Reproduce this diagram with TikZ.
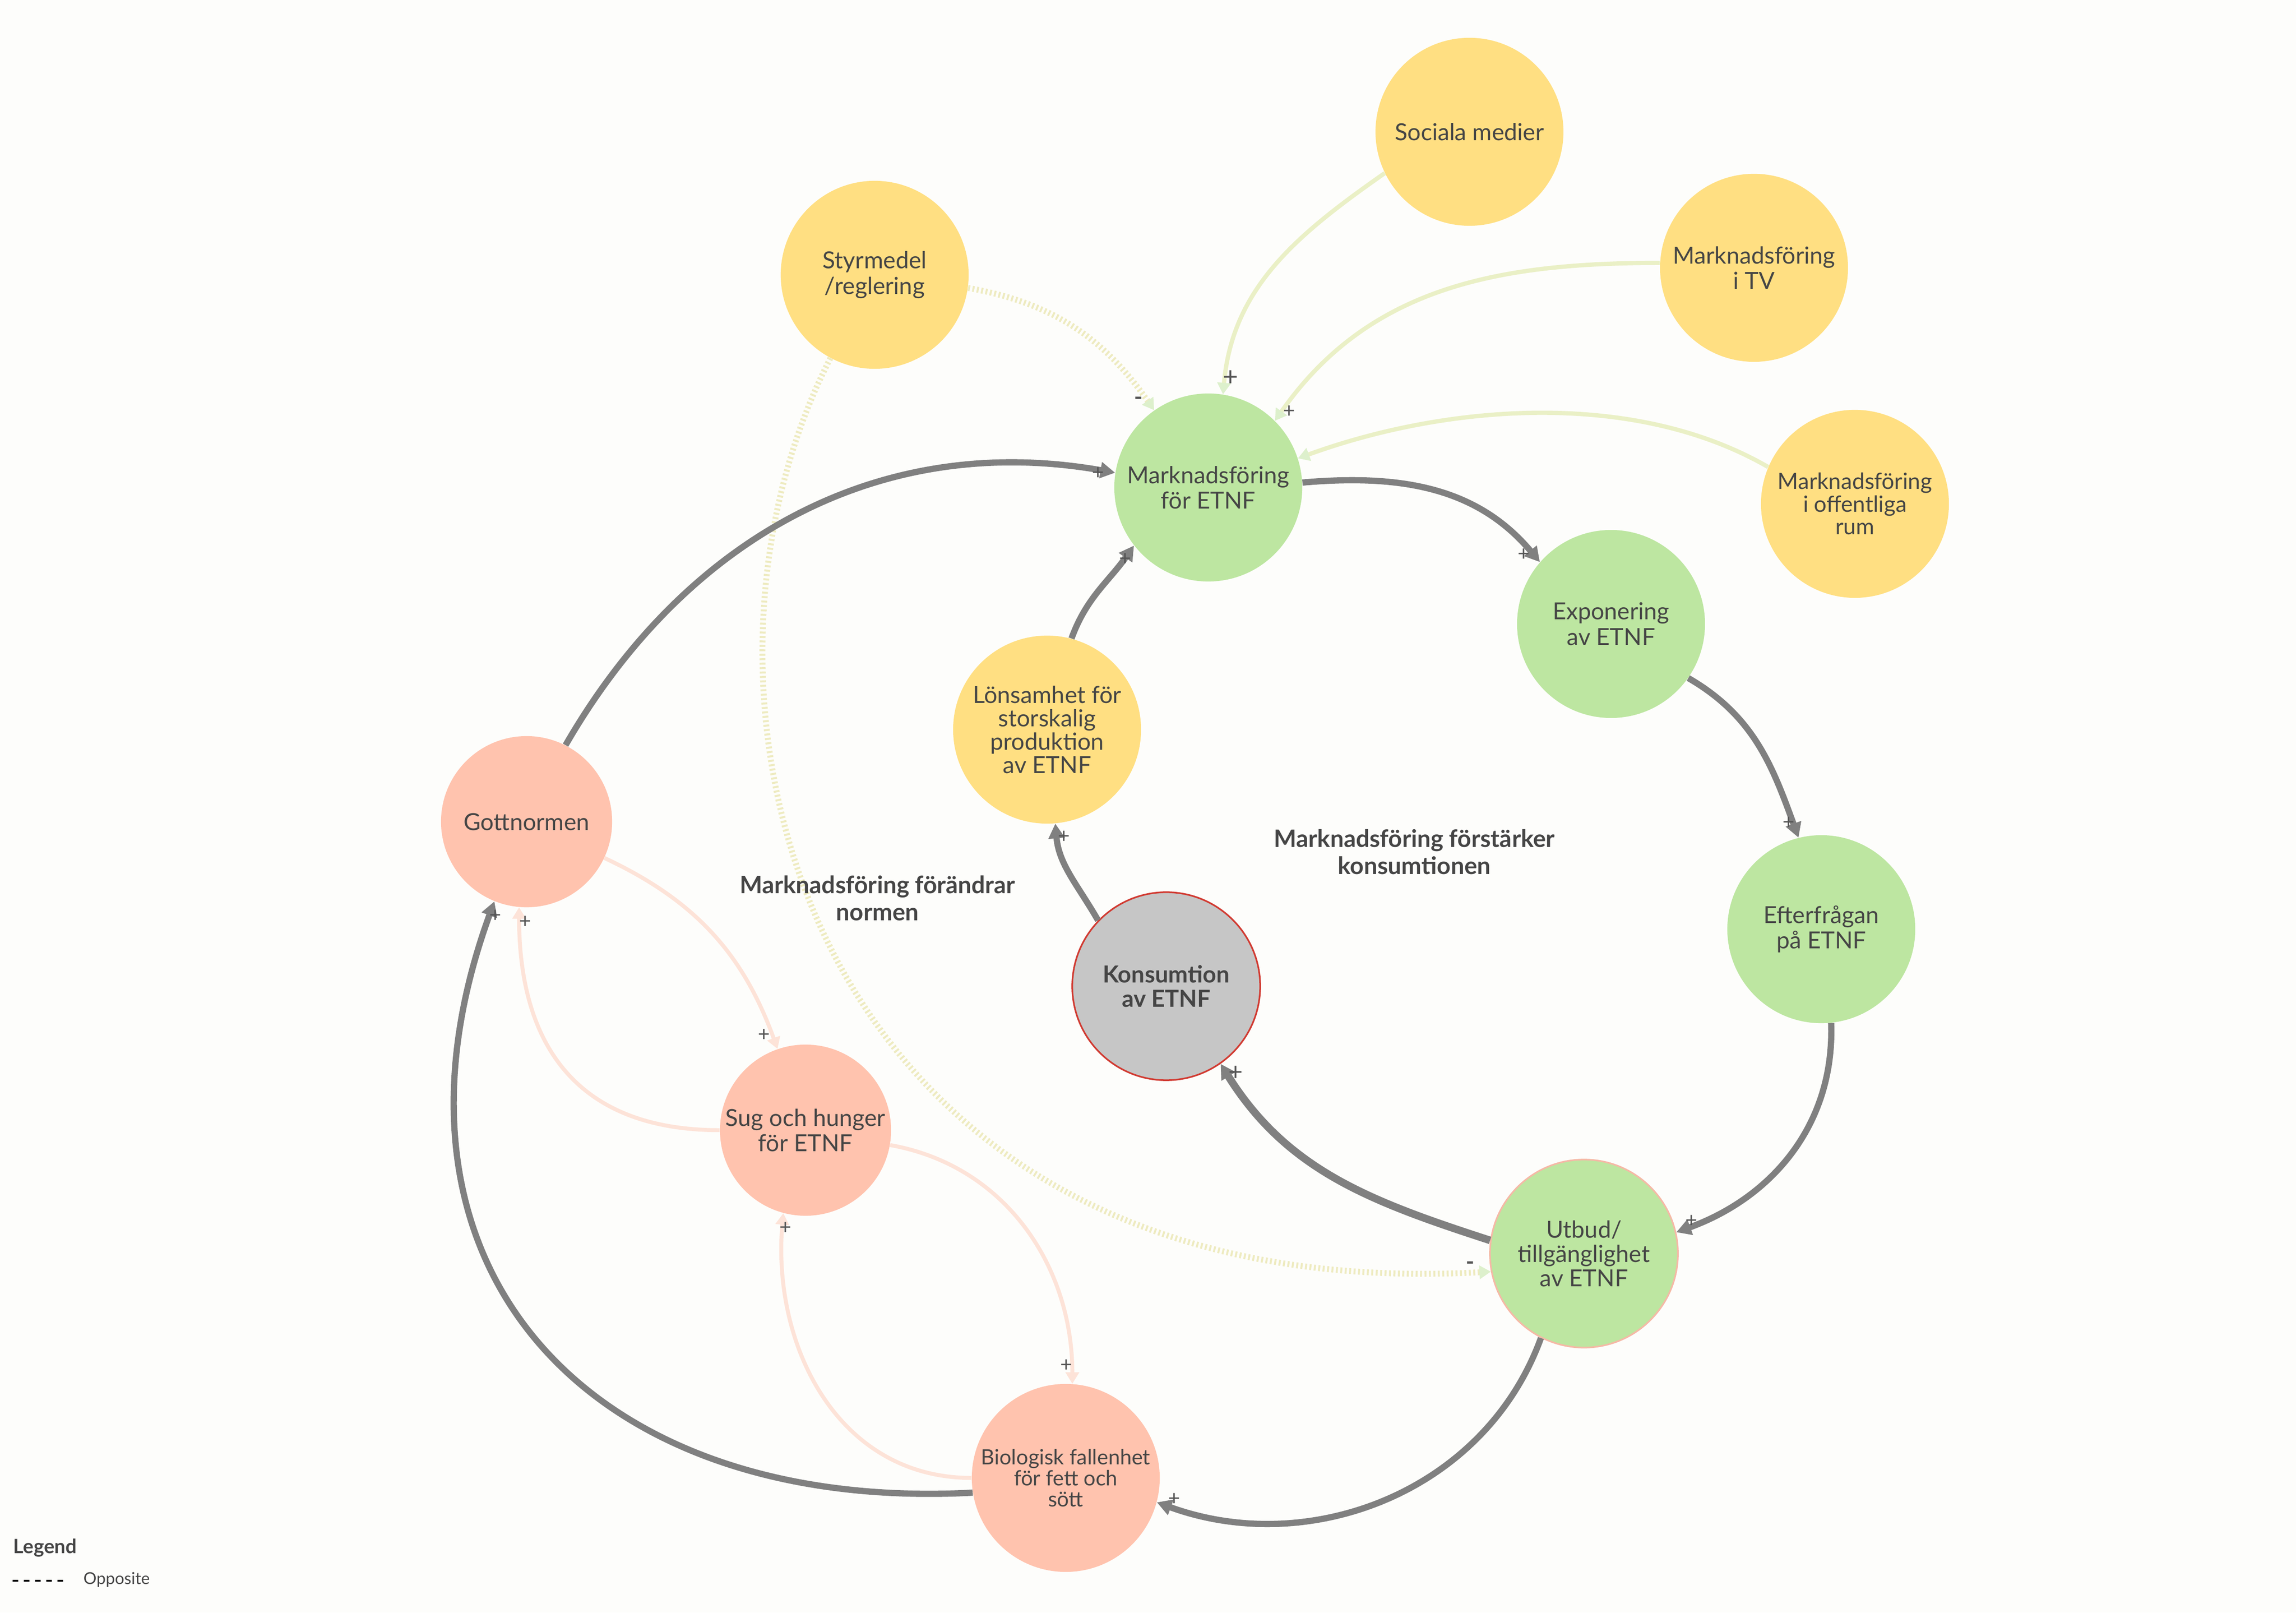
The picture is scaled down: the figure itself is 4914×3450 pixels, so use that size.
\documentclass[tikz,border=0pt]{standalone}
\usepackage{fontspec}
\setmainfont{Lato}
\usetikzlibrary{arrows.meta}

\definecolor{bgcol}{HTML}{FDFDFB}
\definecolor{txtcol}{HTML}{454545}
\definecolor{signcol}{HTML}{555555}
\definecolor{yelcol}{HTML}{FFDF82}
\definecolor{grecol}{HTML}{BDE6A1}
\definecolor{salcol}{HTML}{FFC3AE}
\definecolor{konsgray}{HTML}{C6C6C6}
\definecolor{konsred}{HTML}{D13B32}
\definecolor{utbborder}{HTML}{F5B9A6}
\definecolor{linkgray}{HTML}{808080}
\definecolor{outgreen}{HTML}{EAF0C6}
\definecolor{tipgreen}{HTML}{DDF0CC}
\definecolor{linksalmon}{HTML}{FDE3D8}
\definecolor{dotcol}{HTML}{EEEBC0}

\begin{document}
\begin{tikzpicture}[x=0.01cm,y=0.01cm,
  factor/.style={circle,minimum size=4.02cm,inner sep=0pt,align=center,text=txtcol,
    font=\fontsize{14.3}{15.5}\selectfont},
  yellowfac/.style={factor,fill=yelcol},
  greenfac/.style={factor,fill=grecol},
  salmonfac/.style={factor,fill=salcol,minimum size=3.66cm},
  mainlink/.style={draw=linkgray,line width=3.8pt,-{Triangle[length=9pt,width=9.5pt]}},
  outerlink/.style={draw=outgreen,line width=2.6pt,-{Triangle[length=7pt,width=8pt,color=tipgreen]}},
  bodylink/.style={draw=linksalmon,line width=2.4pt,-{Triangle[length=7pt,width=8pt]}},
  opposite/.style={draw=dotcol,line width=3.6pt,dash pattern=on 1.2pt off 1.5pt,
    -{Triangle[length=7pt,width=8pt,color=tipgreen]}},
  sign/.style={text=signcol,inner sep=0pt,font=\fontsize{12.5}{12.5}\selectfont},
  looplabel/.style={align=center,text=txtcol,font=\bfseries\fontsize{14.6}{16.5}\selectfont}
]
 \fill[bgcol] (0,0) rectangle (4914,3450);
 \useasboundingbox (0,0) rectangle (4914,3450);

    % Draw the factors
    \node[yellowfac] (soc) at (3145,3168) {Sociala medier};
    \node[yellowfac] (tv) at (3754,2877) {Marknadsföring\\i TV};
    \node[yellowfac] (sty) at (1872,2862) {Styrmedel\\/reglering};
    \node[greenfac] (mf) at (2586,2407) {Marknadsföring\\för ETNF};
    \node[yellowfac,font=\fontsize{13.6}{13.8}\selectfont] (off) at (3970,2372) {Marknadsföring\\i offentliga\\rum};
    \node[greenfac] (exp) at (3448,2115) {Exponering\\av ETNF};
    \node[yellowfac,font=\fontsize{14.3}{14.2}\selectfont] (lon) at (2241,1889) {Lönsamhet för\\storskalig\\produktion\\av ETNF};
    \node[salmonfac] (gott) at (1127,1692) {Gottnormen};
    \node[greenfac] (eft) at (3898,1462) {Efterfrågan\\på ETNF};
    \node[factor,fill=konsgray,draw=konsred,line width=1pt,font=\bfseries\fontsize{14.3}{15}\selectfont] (kon) at (2496,1340) {Konsumtion\\av ETNF};
    \node[salmonfac] (sug) at (1724,1032) {Sug och hunger\\för ETNF};
    \node[greenfac,draw=utbborder,line width=1pt,font=\fontsize{14.3}{14.7}\selectfont] (utb) at (3390,768) {Utbud/\\tillgänglighet\\av ETNF};
    \node[factor,fill=salcol,font=\fontsize{12.8}{12.7}\selectfont] (bio) at (2281,288) {Biologisk fallenhet\\för fett och\\sött};

    % Draw the outer influences
    \draw[outerlink] (soc.206) to[out=215,in=85] (mf.81);
    \draw[outerlink] (tv.177) to[out=180,in=55] (mf.45);
    \draw[outerlink] (off.157) to[out=150,in=20,looseness=0.85] (mf.18);
    \draw[opposite] (sty.352) to[out=-10,in=125] (mf.125);
    \draw[opposite] (sty.242) .. controls (1400,1950) and (1720,650) .. (utb.191);

    % Draw the main loop
    \draw[mainlink] (gott.63) to[out=60,in=170] (mf.171);
    \draw[mainlink] (mf.3) to[out=5,in=130] (exp.139);
    \draw[mainlink] (exp.-35) to[out=-30,in=110] (eft.104);
    \draw[mainlink] (eft.-84) to[out=-88,in=20] (utb.13);
    \draw[mainlink,line width=4.6pt] (utb.172) to[out=162,in=-58] (kon.-55);
    \draw[mainlink] (kon.136) to[out=120,in=-85] (lon.-85);
    \draw[mainlink] (lon.75) to[out=70,in=-125] (mf.218);
    \draw[mainlink] (utb.243) to[out=-110,in=-20] (bio.-15);
    \draw[mainlink] (bio.189) to[out=183,in=-110,looseness=1.3] (gott.248);

    % Draw the body loop
    \draw[bodylink] (gott.-25) to[out=-25,in=110] (sug.109);
    \draw[bodylink] (sug.west) to[out=180,in=-90,looseness=1.2] (gott.265);
    \draw[bodylink] (sug.-10) to[out=-10,in=90] (bio.86);
    \draw[bodylink] (bio.west) to[out=180,in=-95,looseness=1.05] (sug.255);

    % Signs at the arrow heads
    \node[sign,font=\fontsize{16}{16}\selectfont] (ssoc) at (2634,2641) {+};
    \node[sign] (stv) at (2759,2569) {+};
    \node[sign,font=\bfseries\fontsize{14}{14}\selectfont] (ssty) at (2437,2592) {-};
    \node[sign] (sgott) at (2350,2437) {+};
    \node[sign] (slon) at (2408,2253) {+};
    \node[sign] (smf) at (3261,2263) {+};
    \node[sign] (sexp) at (3828,1689) {+};
    \node[sign] (seft) at (3620,837) {+};
    \node[sign,font=\fontsize{15}{15}\selectfont] (sutb) at (2645,1154) {+};
    \node[sign] (skon) at (2277,1659) {+};
    \node[sign,font=\bfseries\fontsize{14}{14}\selectfont] (sopp) at (3147,742) {-};
    \node[sign] (sbio) at (2513,242) {+};
    \node[sign] (sgott2) at (1060,1490) {+};
    \node[sign] (ssug) at (1124,1477) {+};
    \node[sign] (sgs) at (1635,1235) {+};
    \node[sign] (sbs) at (1681,822) {+};
    \node[sign] (ssb) at (2282,528) {+};

    % Loop names
    \node[looplabel] (normloop) at (1878,1528) {Marknadsföring förändrar\\normen};
    \node[looplabel] (konsloop) at (3027,1627) {Marknadsföring förstärker\\konsumtionen};

    % Legend
    \node[anchor=west,inner sep=0pt,text=txtcol,font=\bfseries\fontsize{12}{12}\selectfont] (legend) at (28,138) {Legend};
    \coordinate (lega) at (27,68);
    \coordinate (legb) at (135,68);
    \draw[black,line width=1.1pt,dash pattern=on 3.4pt off 3.4pt] (lega) -- (legb);
    \node[anchor=west,inner sep=0pt,text=txtcol,font=\fontsize{10}{10}\selectfont] (opp) at (178,70) {Opposite};

\end{tikzpicture}
\end{document}
